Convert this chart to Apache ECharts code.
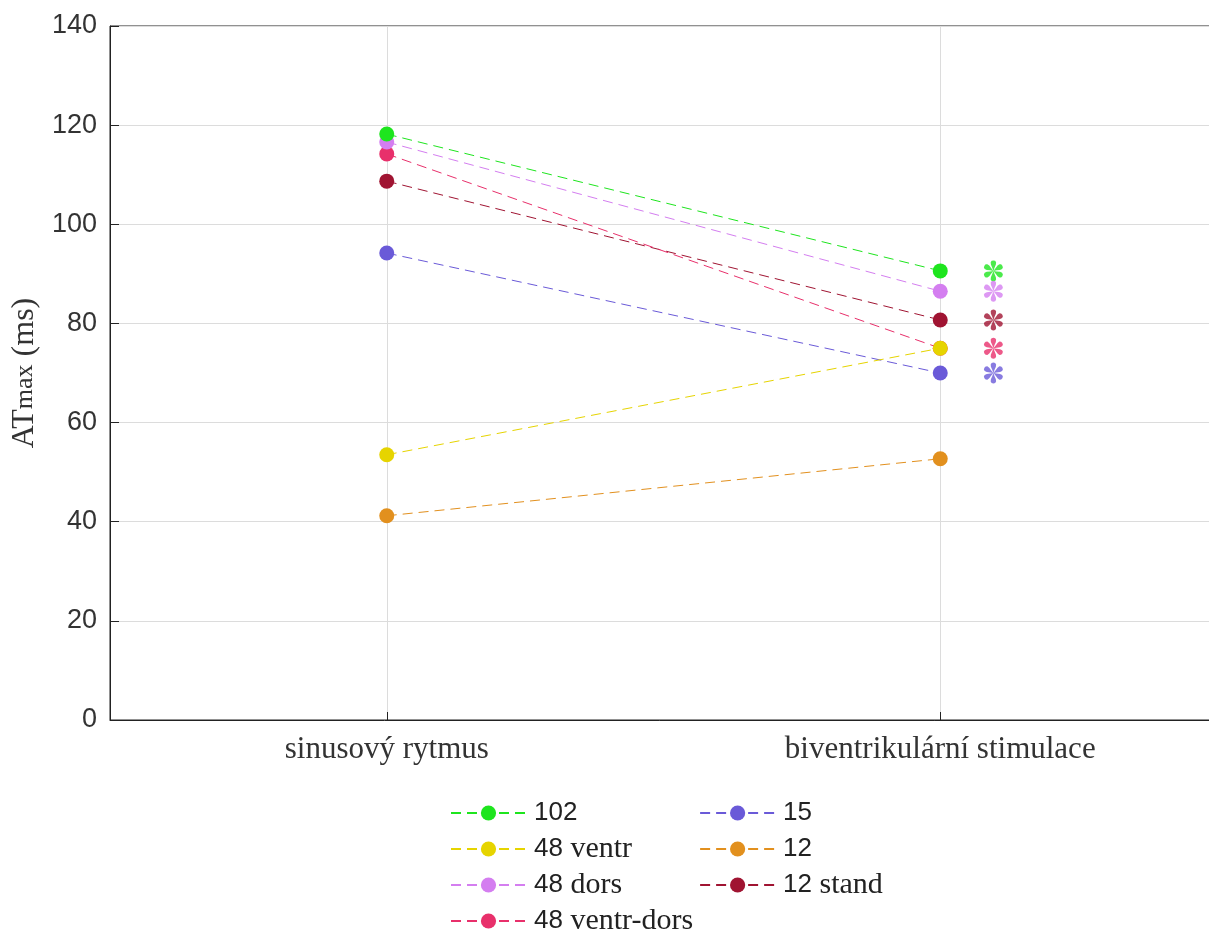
<!DOCTYPE html>
<html><head><meta charset="utf-8">
<script src="https://cdn.jsdelivr.net/npm/echarts@6/dist/echarts.min.js"></script>
<style>html,body{margin:0;padding:0;background:#fff}#c{width:1209px;height:931px}</style>
</head><body><div id="c"></div>
<script>
const categories = ['sinusový rytmus', 'biventrikulární stimulace'];
const seriesNames = ['102', '48 ventr', '48 dors', '48 ventr-dors', '15', '12', '12 stand'];
const v102 = [118.2, 90.6];
const v48ventr = [53.5, 75.0];
const v48dors = [116.6, 86.5];
const v48ventrDors = [114.2, 75.0];
const v15 = [94.2, 70.0];
const v12 = [41.2, 52.7];
const v12stand = [108.7, 80.7];
const significant = ['102', '48 dors', '12 stand', '48 ventr-dors', '15'];
const yTicks = [0, 20, 40, 60, 80, 100, 120, 140];

const allValues = [v102, v48ventr, v48dors, v48ventrDors, v15, v12, v12stand];
const colors = ['#1ee51e', '#e6d400', '#d47ef0', '#e8306b', '#6a5ad8', '#e2901e', '#a01432'];
const SERIF = 'Liberation Serif';
const SANS = 'Liberation Sans';

// asterisk symbol path (6 teardrop spokes)
function asteriskPath() {
  let d = '';
  const R = 10;
  const prof = [[0, 0], [0.3, 1.1], [0.6, 2.4], [0.82, 2.6], [0.96, 1.7], [1.0, 0]];
  for (let k = 0; k < 6; k++) {
    const a = (90 + 60 * k) * Math.PI / 180;
    const ux = Math.cos(a), uy = -Math.sin(a);
    const px = -uy, py = ux;
    const pts = [];
    prof.forEach(p => pts.push([p[0] * R * ux + p[1] * px, p[0] * R * uy + p[1] * py]));
    for (let j = prof.length - 2; j > 0; j--) {
      const p = prof[j];
      pts.push([p[0] * R * ux - p[1] * px, p[0] * R * uy - p[1] * py]);
    }
    d += 'M' + pts.map(p => (p[0] + 10).toFixed(2) + ' ' + (p[1] + 10).toFixed(2)).join(' L') + ' Z ';
  }
  return 'path://' + d;
}
const astSym = asteriskPath();

const series = [];
seriesNames.forEach((n, i) => {
  series.push({
    name: n, type: 'line', xAxisIndex: 0,
    data: allValues[i].map((v, j) => [j, v]),
    symbol: 'circle', symbolSize: 15,
    itemStyle: { color: colors[i] },
    lineStyle: { color: colors[i], width: 1, type: [10, 6] },
    emphasis: { disabled: true }, z: 3 + (seriesNames.length - i)
  });
});
series.push({
  name: 'sig', type: 'scatter', xAxisIndex: 0,
  data: seriesNames.map((n, i) => significant.includes(n) ? {
    value: [1.096, allValues[i][1]], itemStyle: { color: colors[i] }
  } : null).filter(x => x),
  symbol: astSym, symbolSize: [19, 21], symbolKeepAspect: false,
  emphasis: { disabled: true }, z: 10
});

const chart = echarts.init(document.getElementById('c'), null, { renderer: 'canvas' });
chart.setOption({
  animation: false,
  backgroundColor: '#fff',
  grid: { left: 110, top: 26, width: 1107, height: 694, show: true, borderColor: '#222', borderWidth: 1,
          outerBoundsMode: 'none', containLabel: false },
  xAxis: [{
    type: 'value', min: -0.5, max: 1.5, interval: 0.5,
    axisLine: { show: true, onZero: false, lineStyle: { color: '#222' } },
    axisTick: { show: false },
    axisLabel: { show: false },
    splitLine: { show: true, lineStyle: { color: ['rgba(0,0,0,0)', '#dcdcdc'], width: 1 } }
  }, {
    type: 'category', data: categories, position: 'bottom', boundaryGap: true,
    axisLine: { show: false },
    axisTick: { show: true, inside: true, alignWithLabel: true, length: 8, lineStyle: { color: '#222' } },
    axisLabel: { margin: 14, fontFamily: SERIF, fontSize: 31, color: '#333' },
    splitLine: { show: false }
  }],
  yAxis: {
    type: 'value', min: yTicks[0], max: yTicks[yTicks.length - 1], interval: 20,
    name: '{a|AT}{b|max}{a| (ms)}', nameLocation: 'middle', nameGap: 62,
    nameTextStyle: { fontFamily: SERIF, fontSize: 32, color: '#333',
      rich: { a: { fontFamily: SERIF, fontSize: 32, color: '#333' }, b: { fontFamily: SERIF, fontSize: 26, color: '#333' } } },
    axisLine: { show: true, onZero: false, lineStyle: { color: '#222' } },
    axisTick: { show: true, inside: true, length: 9, lineStyle: { color: '#222' } },
    axisLabel: { margin: 13, fontFamily: SANS, fontSize: 27, color: '#333' },
    splitLine: { show: true, lineStyle: { color: '#dcdcdc', width: 1 } }
  },
  legend: {
    data: seriesNames, orient: 'vertical', left: 445, top: 793, height: 145,
    itemWidth: 75, itemHeight: 19, itemGap: 6,
    formatter: name => name.replace(/(\d+)/g, '{d|$1}'),
    textStyle: { fontFamily: SERIF, fontSize: 30, lineHeight: 30, color: '#222', padding: [0, 0, 0, 3],
      rich: { d: { fontFamily: SANS, fontSize: 26, color: '#222' } } },
    selectedMode: false
  },
  series: series
});
</script></body></html>
